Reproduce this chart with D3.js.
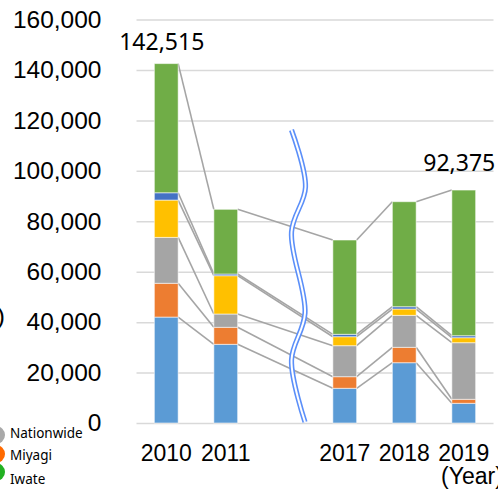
<!DOCTYPE html>
<html lang="en">
<head>
<meta charset="UTF-8">
<title>Stacked bars 2010-2019</title>
<script src="https://cdn.jsdelivr.net/npm/d3@7/dist/d3.min.js"></script>
<style>
  body { margin: 0; background: #fff; }
  svg { display: block; }
</style>
</head>
<body>
<div id="container"></div>
<script>
// categories (empty slot between 2011 and 2017 holds the break mark)
const categories = ["2010", "2011", "", "2017", "2018", "2019"];
const years = ["2010", "2011", "2017", "2018", "2019"];

// stacked series, bottom to top
const seriesNames = ["s1", "s2", "s3", "s4", "s5", "s6"];
const s1 = [42000, 31200, 13760, 23910, 7810];
const s2 = [13400, 6750, 4600, 6100, 1590];
const s3 = [18200, 5270, 12290, 12680, 22440];
const s4 = [14800, 15190, 3570, 2510, 1980];
const s5 = [2900, 670, 950, 910, 790];
const s6 = [51215, 25650, 37390, 41640, 57765];

const yTicks = [0, 20000, 40000, 60000, 80000, 100000, 120000, 140000, 160000];

// totals shown as labels
const labelYears = ["2010", "2019"];
const labelValues = [142515, 92375];

// partial legend visible at the left edge
const legendNames = ["Nationwide", "Miyagi", "Iwate"];
const legendColors = ["#a9a9a9", "#ff6a00", "#22b122"];

const colors = ["#5b9bd5", "#ed7d31", "#a5a5a5", "#ffc000", "#4472c4", "#70ad47"];

const W = 498, H = 494;
const svg = d3.select("#container").append("svg")
  .attr("width", W).attr("height", H);

const x = d3.scaleBand().domain(categories)
  .range([136.5, 493.5]).paddingInner(0.6).paddingOuter(0.3);
const y = d3.scaleLinear().domain([0, 160000]).range([423, 19.5]);

// gridlines
svg.append("g")
  .attr("transform", "translate(136.5,0)")
  .call(d3.axisLeft(y).tickValues(yTicks).tickSize(-357).tickFormat(""))
  .call(g => g.select(".domain").remove())
  .call(g => g.selectAll("line").attr("stroke", "#d9d9d9").attr("stroke-width", 1.5));

// y tick labels
svg.append("g")
  .attr("transform", "translate(136.5,0)")
  .call(d3.axisLeft(y).tickValues(yTicks).tickSize(0).tickPadding(35).tickFormat(d3.format(",")))
  .call(g => g.select(".domain").remove())
  .call(g => g.selectAll("text")
    .attr("font-family", "Liberation Sans, Arial, sans-serif")
    .attr("font-size", 24.5).attr("fill", "#000"));

// stacked data
const rows = years.map((yr, i) => {
  const r = { year: yr };
  [s1, s2, s3, s4, s5, s6].forEach((s, k) => r[seriesNames[k]] = s[i]);
  return r;
});
const stacked = d3.stack().keys(seriesNames)(rows);

// series lines between bars
const lineG = svg.append("g");
stacked.forEach(layer => {
  for (let i = 0; i < layer.length - 1; i++) {
    const a = layer[i], b = layer[i + 1];
    lineG.append("line")
      .attr("x1", x(a.data.year) + x.bandwidth())
      .attr("y1", y(a[1]))
      .attr("x2", x(b.data.year))
      .attr("y2", y(b[1]))
      .attr("stroke", "#a5a5a5")
      .attr("stroke-width", 1.6);
  }
});

// bars
svg.append("g").selectAll("g")
  .data(stacked)
  .join("g")
  .attr("fill", (d, i) => colors[i])
  .selectAll("rect")
  .data(d => d)
  .join("rect")
  .attr("x", d => x(d.data.year))
  .attr("y", d => y(d[1]))
  .attr("width", x.bandwidth())
  .attr("height", d => y(d[0]) - y(d[1]))
  .attr("stroke", "#ffffff")
  .attr("stroke-opacity", 0.55)
  .attr("stroke-width", 1);

// break mark (double wavy line)
const wave = [[291.5, 130], [305.5, 187], [291.5, 232], [305, 313], [291.5, 360], [305, 422]];
const wavePath = d3.line().curve(d3.curveCatmullRom.alpha(0.5))(wave);
svg.append("path").attr("d", wavePath)
  .attr("fill", "none").attr("stroke", "#5b8ff9").attr("stroke-width", 5.2);
svg.append("path").attr("d", wavePath)
  .attr("fill", "none").attr("stroke", "#fff").attr("stroke-width", 2);

// category labels
svg.append("g")
  .attr("transform", "translate(0,423)")
  .call(d3.axisBottom(x).tickValues(years).tickSize(0).tickPadding(22))
  .call(g => g.select(".domain").remove())
  .call(g => g.selectAll("text")
    .attr("font-family", "Liberation Sans, Arial, sans-serif")
    .attr("font-size", 23).attr("fill", "#000"));

svg.append("text")
  .attr("x", 441).attr("y", 484)
  .attr("font-family", "Liberation Sans, Arial, sans-serif")
  .attr("font-size", 23)
  .text("(Year)");

// y-axis unit, mostly cut off at the left edge
svg.append("text")
  .attr("x", 5).attr("y", 324)
  .attr("text-anchor", "end")
  .attr("font-family", "Liberation Sans, Arial, sans-serif")
  .attr("font-size", 24.5)
  .text("(people)");

// total labels
const labelDy = [14, 19];
labelYears.forEach((yr, i) => {
  svg.append("text")
    .attr("x", x(yr) + x.bandwidth() / 2 - 4.5)
    .attr("y", y(labelValues[i]) - labelDy[i])
    .attr("text-anchor", "middle")
    .attr("font-family", "Noto Sans, sans-serif")
    .attr("font-size", 23)
    .text(d3.format(",")(labelValues[i]));
});

// legend fragment
const legendY = [435, 454, 472];
const legendBase = [438, 460, 484];
legendNames.forEach((name, i) => {
  svg.append("circle")
    .attr("cx", -4).attr("cy", legendY[i]).attr("r", 9)
    .attr("fill", legendColors[i]);
});
legendNames.forEach((name, i) => {
  svg.append("text")
    .attr("x", 10).attr("y", legendBase[i])
    .attr("font-family", "Noto Sans, sans-serif")
    .attr("font-size", 13.5)
    .text(name);
});
</script>
</body>
</html>
